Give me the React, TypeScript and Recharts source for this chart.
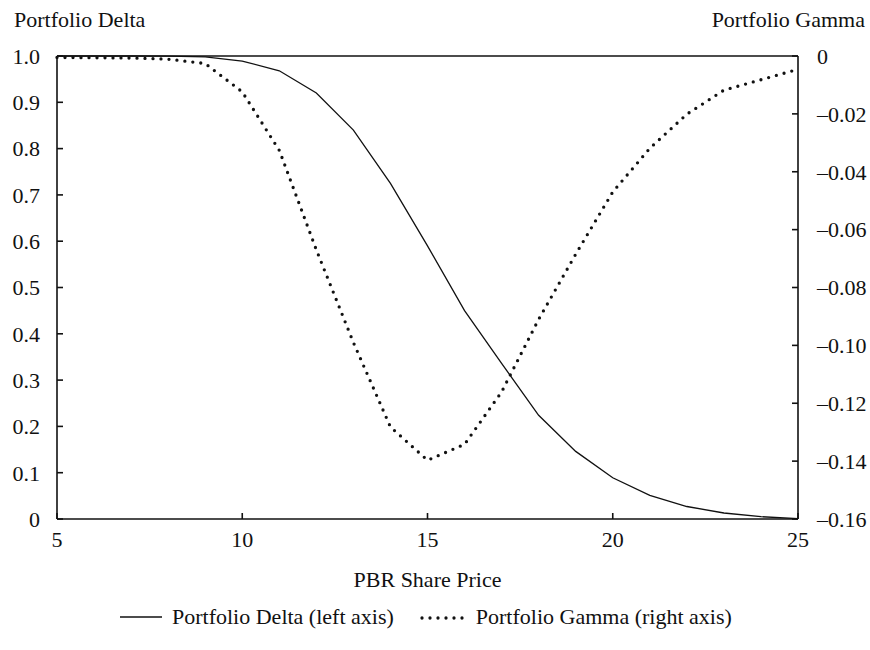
import React from 'react';
import {
  ComposedChart,
  Line,
  XAxis,
  YAxis,
  ReferenceLine,
  Legend,
} from 'recharts';

// PBR share price grid
const PRICE = [5, 6, 7, 8, 9, 10, 11, 12, 13, 14, 15, 16, 17, 18, 19, 20, 21, 22, 23, 24, 25];
// left axis
const DELTA = [
  1.0, 1.0, 1.0, 0.9998, 0.998, 0.989, 0.968, 0.92, 0.84, 0.725, 0.59,
  0.45, 0.336, 0.224, 0.146, 0.089, 0.051, 0.027, 0.013, 0.005, 0.001,
];
// right axis
const GAMMA = [
  -0.0005, -0.0006, -0.0007, -0.0011, -0.0026, -0.0124, -0.0326, -0.067, -0.099, -0.1282, -0.1397,
  -0.1342, -0.1161, -0.091, -0.0685, -0.047, -0.0319, -0.0201, -0.0118, -0.0082, -0.0046,
];

const X_TICKS = [5, 10, 15, 20, 25];
const DELTA_TICKS = [0, 0.1, 0.2, 0.3, 0.4, 0.5, 0.6, 0.7, 0.8, 0.9, 1.0];
const GAMMA_TICKS = [-0.16, -0.14, -0.12, -0.1, -0.08, -0.06, -0.04, -0.02, 0];

const data = PRICE.map((price, i) => ({ price, delta: DELTA[i], gamma: GAMMA[i] }));

const FONT = '"Liberation Serif", "Times New Roman", serif';
const INK = '#111';
const tickStyle = { fill: INK, fontFamily: FONT, fontSize: 22 };

const fmtDelta = (v: number) => (v === 0 ? '0' : v.toFixed(1));
const fmtGamma = (v: number) => (v === 0 ? '0' : '\u2013' + Math.abs(v).toFixed(2));

const textStyle: React.CSSProperties = {
  position: 'absolute',
  fontFamily: FONT,
  fontSize: 22,
  lineHeight: '22px',
  color: INK,
  whiteSpace: 'nowrap',
};

function LegendBox() {
  return (
    <div style={{ display: 'flex', alignItems: 'center', fontFamily: FONT, fontSize: 22, lineHeight: '24px', color: INK, paddingLeft: 120 }}>
      <svg width={42} height={10} style={{ marginRight: 10 }}>
        <line x1={0} y1={5} x2={42} y2={5} stroke={INK} strokeWidth={1.3} />
      </svg>
      <span>Portfolio Delta (left axis)</span>
      <svg width={46} height={10} style={{ marginLeft: 26, marginRight: 10 }}>
        <line x1={2} y1={6} x2={46} y2={6} stroke={INK} strokeWidth={3.3} strokeDasharray="0 8" strokeLinecap="round" />
      </svg>
      <span>Portfolio Gamma (right axis)</span>
    </div>
  );
}

export default function App() {
  return (
    <div style={{ position: 'absolute', left: 0, top: 0, width: 870, height: 650, background: '#fff' }}>
      <ComposedChart width={870} height={650} data={data} margin={{ top: 56, right: 0, bottom: 0, left: 0 }}>
        <XAxis
          dataKey="price"
          type="number"
          domain={[5, 25]}
          ticks={X_TICKS}
          height={131}
          stroke={INK}
          strokeWidth={1.6}
          tickSize={-6}
          tickMargin={18}
          tick={tickStyle}
        />
        <YAxis
          yAxisId="left"
          orientation="left"
          domain={[0, 1]}
          ticks={DELTA_TICKS}
          width={57}
          stroke={INK}
          strokeWidth={1.6}
          tickSize={-6}
          tickMargin={23}
          tick={tickStyle}
          tickFormatter={fmtDelta}
        />
        <YAxis
          yAxisId="right"
          orientation="right"
          domain={[-0.16, 0]}
          ticks={GAMMA_TICKS}
          width={72}
          stroke={INK}
          strokeWidth={1.6}
          tickSize={-6}
          tickMargin={25}
          tick={{ ...tickStyle, textAnchor: 'start' }}
          tickFormatter={fmtGamma}
        />
        <ReferenceLine yAxisId="left" y={1} stroke={INK} strokeWidth={1.6} />
        <Line
          yAxisId="left"
          dataKey="delta"
          type="linear"
          stroke={INK}
          strokeWidth={1.3}
          dot={false}
          isAnimationActive={false}
        />
        <Line
          yAxisId="right"
          dataKey="gamma"
          type="linear"
          stroke={INK}
          strokeWidth={3.3}
          strokeDasharray="0 8"
          strokeLinecap="round"
          dot={false}
          isAnimationActive={false}
        />
        <Legend
          verticalAlign="middle"
          layout="horizontal"
          wrapperStyle={{ top: 605, left: 0, width: 870 }}
          content={() => <LegendBox />}
        />
      </ComposedChart>
      <div style={{ ...textStyle, left: 14, top: 9 }}>Portfolio Delta</div>
      <div style={{ ...textStyle, right: 5, top: 9 }}>Portfolio Gamma</div>
      <div style={{ ...textStyle, left: 57, width: 741, top: 569, textAlign: 'center' }}>PBR Share Price</div>
    </div>
  );
}
